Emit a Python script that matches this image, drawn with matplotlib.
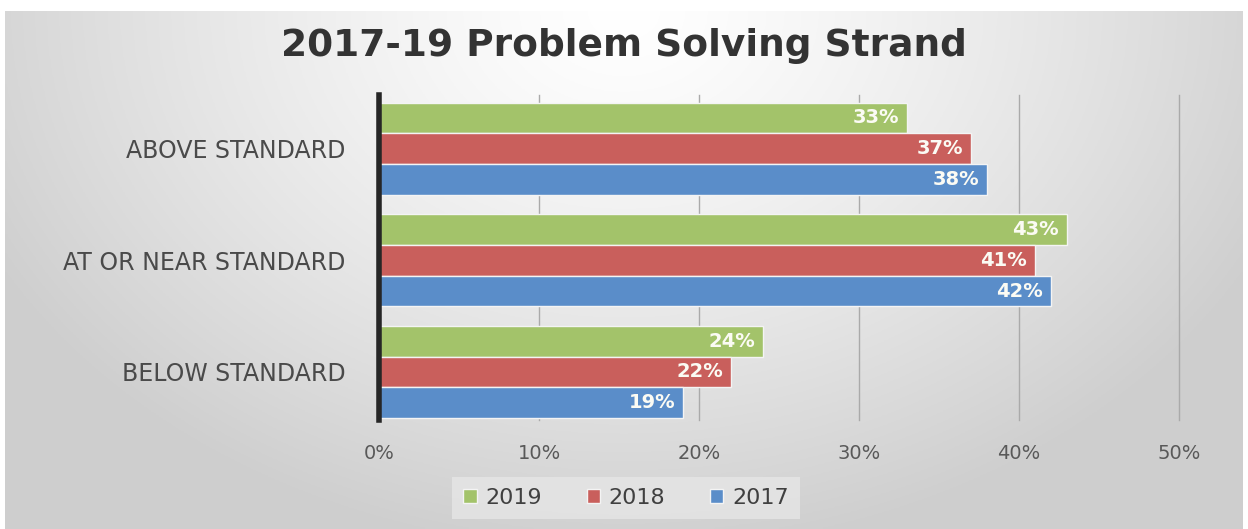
import numpy as np
import matplotlib.pyplot as plt
from matplotlib.ticker import PercentFormatter

plt.rcParams["font.family"] = "DejaVu Sans"

# data
categories = ["BELOW STANDARD", "AT OR NEAR STANDARD", "ABOVE STANDARD"]
years = ["2019", "2018", "2017"]
vals_2019 = [24, 43, 33]
vals_2018 = [22, 41, 37]
vals_2017 = [19, 42, 38]
colors = ["#a3c36a", "#c95f5c", "#5a8dc9"]

fig = plt.figure(figsize=(12.48, 5.29), dpi=100)

# gradient background panel
bg = fig.add_axes([5 / 1248, 0, 1238 / 1248, 518 / 529], zorder=0)
gx, gy = np.meshgrid(np.linspace(-1, 1, 400), np.linspace(0, 1, 200))
r = np.sqrt((gx / 1.15) ** 2 + (gy / 1.05) ** 2)
shade = 1.0 - 0.19 * np.clip(r, 0, 1) ** 1.3
bg.imshow(np.dstack([shade] * 3), aspect="auto", extent=(0, 1, 0, 1), origin="upper")
bg.set_axis_off()

ax = fig.add_axes([379 / 1248, 1 - 420 / 529, 800 / 1248, 325 / 529], zorder=1)
ax.patch.set_alpha(0)

y = np.arange(len(categories))
h = 0.275
offsets = [h, 0, -h]
for vals, off, c, lab in zip([vals_2019, vals_2018, vals_2017], offsets, colors, years):
    bars = ax.barh(y + off, vals, height=h, color=c, edgecolor="#f4f4f4", linewidth=1, label=lab, zorder=3)
    for b, v in zip(bars, vals):
        ax.text(b.get_width() - 0.5, b.get_y() + b.get_height() / 2, f"{v}%", ha="right", va="center",
                color="#fbfbf4", fontsize=14, fontweight="bold", zorder=4)

ax.set_xlim(0, 50)
ax.set_ylim(-0.43, 2.48)
ax.set_xticks(range(0, 51, 10))
ax.xaxis.set_major_formatter(PercentFormatter(decimals=0))
ax.set_yticks(y)
ax.set_yticklabels(categories, fontsize=17, color="#4a4a4a")
ax.tick_params(axis="x", length=0, pad=17, labelsize=14, labelcolor="#595959")
ax.tick_params(axis="y", length=0, pad=24)
ax.grid(axis="x", color="#aaaaaa", linewidth=1, zorder=0)
for gl in ax.get_xgridlines():
    gl.set_clip_on(False)
for s in ["top", "right", "bottom"]:
    ax.spines[s].set_visible(False)
ax.spines["left"].set_linewidth(4)
ax.spines["left"].set_color("#262626")
ax.spines["left"].set_zorder(5)

fig.text(0.5, 1 - 46 / 529, "2017-19 Problem Solving Strand", ha="center", va="center",
         fontsize=27, fontweight="bold", color="#333333")

leg = fig.legend(loc="center", bbox_to_anchor=(626 / 1248, 1 - 498 / 529), ncol=3, frameon=True,
                 fontsize=16, handlelength=0.6, handleheight=0.6, handletextpad=0.4, columnspacing=2.0,
                 borderpad=0.2, borderaxespad=0)
leg.get_frame().set_facecolor("#e6e6e6")
leg.get_frame().set_edgecolor("none")
leg.get_frame().set_boxstyle("square")
for t in leg.get_texts():
    t.set_color("#404040")

fig.savefig("out.png", dpi=100)
